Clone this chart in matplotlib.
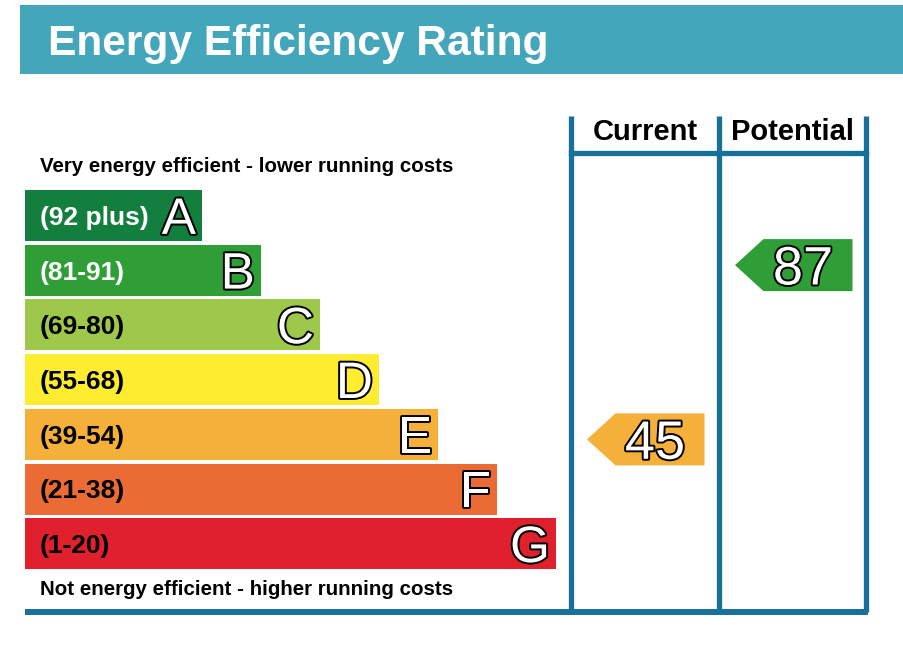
import matplotlib.pyplot as plt
import matplotlib.patheffects as pe
from matplotlib.patches import Polygon, Rectangle

plt.rcParams['font.family'] = ['Liberation Sans', 'DejaVu Sans']
plt.rcParams['font.weight'] = 'bold'

# rating bands
bands = ['A', 'B', 'C', 'D', 'E', 'F', 'G']
ranges = ['(92 plus)', '(81-91)', '(69-80)', '(55-68)', '(39-54)', '(21-38)', '(1-20)']
low = [92, 81, 69, 55, 39, 21, 1]
high = [100, 91, 80, 68, 54, 38, 20]
band_colors = ['#137f3e', '#2f9e37', '#9ec84a', '#fdec30', '#f4b039', '#eb6b34', '#e0202d']
range_text_colors = ['white', 'white', 'black', 'black', 'black', 'black', 'black']

current = 45
potential = 87

line_color = '#17709a'
banner_color = '#43a6ba'

# layout (pixels)
ROW0 = 190
PITCH = 54.7
BAR_H = 51
BAR_LEFT = 25
BAR_W0 = 177
BAR_STEP = 59
COLS = [571.5, 719.5, 866]
CAP = 0.716  # cap height of Arial-like fonts, in em


def px(pt):
    return pt * 100 / 72


def band_of(v):
    for i in range(len(bands)):
        if low[i] <= v <= high[i]:
            return i
    return len(bands) - 1


def value_y(v):
    i = band_of(v)
    top = ROW0 + i * PITCH
    frac = (v - low[i]) / (high[i] - low[i])
    return top + BAR_H - frac * BAR_H, i


def cap_text(x, yc, s, size, **kw):
    # place text so the capitals are centred on yc
    ax.text(x, yc + CAP * px(size) / 2, s, fontsize=size, va='baseline', **kw)


fig = plt.figure(figsize=(9.04, 6.58), dpi=100)
ax = fig.add_axes([0, 0, 1, 1])
ax.set_xlim(0, 904)
ax.set_ylim(658, 0)
ax.axis('off')

# title banner
ax.add_patch(Rectangle((20, 5), 884, 69, color=banner_color, lw=0))
ax.text(48, 55, 'Energy Efficiency Rating', fontsize=30.6, color='white', va='baseline')

ax.text(40, 172.5, 'Very energy efficient - lower running costs', fontsize=14.8, va='baseline')
ax.text(40, 595, 'Not energy efficient - higher running costs', fontsize=14.8, va='baseline')

# bars
centers = [ROW0 + i * PITCH + BAR_H / 2 for i in range(len(bands))]
widths = [BAR_W0 + i * BAR_STEP for i in range(len(bands))]
ax.barh(centers, widths, left=BAR_LEFT, height=BAR_H, color=band_colors, lw=0)

outline = [pe.withStroke(linewidth=2.8, foreground='black')]
for i in range(len(bands)):
    cap_text(40, centers[i], ranges[i], 19, color=range_text_colors[i])
    cap_text(BAR_LEFT + widths[i] - 6, centers[i], bands[i], 37, color='white',
             ha='right', path_effects=outline, fontweight='normal')

# column frame
lw = 3.8
for x in COLS:
    ax.plot([x, x], [116, 612], color=line_color, lw=lw, solid_capstyle='butt')
ax.plot([COLS[0], COLS[2]], [152.5, 152.5], color=line_color, lw=lw)
ax.plot([BAR_LEFT, COLS[2] + 2], [612, 612], color=line_color, lw=lw + 0.5, solid_capstyle='butt')

ax.text((COLS[0] + COLS[1]) / 2, 140, 'Current', fontsize=21, ha='center', va='baseline')
ax.text((COLS[1] + COLS[2]) / 2, 140, 'Potential', fontsize=21, ha='center', va='baseline')

# rating arrows
for col, v in [(0, current), (1, potential)]:
    yc, i = value_y(v)
    x0 = COLS[col]
    tip, body, right = x0 + 15.5, x0 + 44, x0 + 133
    h = BAR_H / 2 + 0.5
    ax.add_patch(Polygon([(tip, yc), (body, yc - h), (right, yc - h), (right, yc + h), (body, yc + h)],
                         closed=True, color=band_colors[i], lw=0))
    cap_text((body + right) / 2 - 5, yc, str(v), 39, color='white', ha='center',
             path_effects=outline, fontweight='normal')

fig.savefig('out.png', dpi=100)
